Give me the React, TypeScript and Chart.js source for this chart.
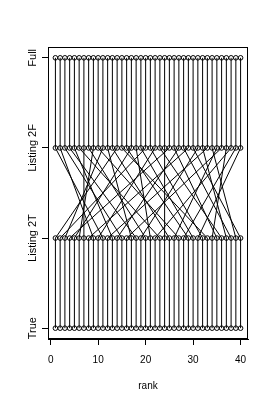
import React, { useEffect, useRef } from "react";
import { Chart, registerables } from "chart.js";

Chart.register(...registerables);

// Levels (bottom to top) and their y positions
const levelLabels = ["True", "Listing 2T", "Listing 2F", "Full"];
const levelValues = [1, 2, 3, 4];

// Ranks of the items in "True" and "Listing 2T" (identical)
const ranks = [
  1, 2, 3, 4, 5, 6, 7, 8, 9, 10, 11, 12, 13, 14, 15, 16, 17, 18, 19, 20,
  21, 22, 23, 24, 25, 26, 27, 28, 29, 30, 31, 32, 33, 34, 35, 36, 37, 38, 39, 40,
];

// Rank of the same items in "Listing 2F" and "Full" (identical)
const listing2FRank = [
  14, 20, 11, 25, 17, 9, 7, 29, 2, 22, 1, 33, 5, 27, 3, 36, 12, 4, 31, 8,
  18, 38, 6, 24, 13, 35, 10, 39, 16, 19, 40, 21, 15, 37, 26, 23, 32, 28, 34, 30,
];

const xTicks = [0, 10, 20, 30, 40];
const xTitle = "rank";

const FONT = "'Liberation Sans', Arial, Helvetica, sans-serif";

export default function App() {
  const ref = useRef<HTMLCanvasElement | null>(null);

  useEffect(() => {
    if (!ref.current) return;

    const lineSets = ranks.map((r, i) => ({
      type: "line" as const,
      data: [
        { x: r, y: levelValues[0] },
        { x: r, y: levelValues[1] },
        { x: listing2FRank[i], y: levelValues[2] },
        { x: listing2FRank[i], y: levelValues[3] },
      ],
      borderColor: "#000",
      borderWidth: 1,
      pointRadius: 0,
      fill: false,
      tension: 0,
    }));

    const pts: { x: number; y: number }[] = [];
    levelValues.forEach((lv) => {
      ranks.forEach((r) => pts.push({ x: r, y: lv }));
    });

    const pointSet = {
      type: "scatter" as const,
      data: pts,
      pointStyle: "circle",
      pointRadius: 2.3,
      pointBorderWidth: 1,
      borderColor: "#000",
      pointBorderColor: "#000",
      backgroundColor: "rgba(0,0,0,0)",
      pointBackgroundColor: "rgba(0,0,0,0)",
      showLine: false,
    };

    const framePlugin = {
      id: "frame",
      afterDraw(chart: any) {
        const { ctx, chartArea } = chart;
        const y = chart.scales.y;
        ctx.save();
        ctx.strokeStyle = "#000";
        ctx.lineWidth = 1;
        const l = Math.round(chartArea.left) + 0.5;
        const t = Math.round(chartArea.top) + 0.5;
        const rr = Math.round(chartArea.right) - 0.5;
        const b = Math.round(chartArea.bottom) - 0.5;
        ctx.strokeRect(l, t, rr - l, b - t);
        ctx.fillStyle = "#000";
        ctx.font = `11px ${FONT}`;
        ctx.textAlign = "center";
        ctx.textBaseline = "middle";
        levelValues.forEach((v, i) => {
          const py = y.getPixelForValue(v);
          ctx.save();
          ctx.translate(chartArea.left - 15, py);
          ctx.rotate(-Math.PI / 2);
          ctx.fillText(levelLabels[i], 0, 0);
          ctx.restore();
        });
        ctx.restore();
      },
    };

    const chart = new Chart(ref.current, {
      type: "scatter",
      data: { datasets: [...lineSets, pointSet] as any },
      options: {
        animation: false,
        responsive: false,
        maintainAspectRatio: false,
        layout: { padding: { left: 0, right: 25, top: 47, bottom: 0 } },
        plugins: {
          legend: { display: false },
          tooltip: { enabled: false },
        },
        scales: {
          x: {
            type: "linear",
            min: -0.56,
            max: 41.56,
            afterBuildTicks: (s: any) => {
              s.ticks = xTicks.map((v) => ({ value: v }));
            },
            afterFit: (s: any) => {
              s.height = 61;
            },
            grid: {
              display: true,
              drawOnChartArea: false,
              drawTicks: true,
              tickLength: 6,
              color: "#000",
              tickColor: "#000",
            },
            border: { display: true, color: "#000" },
            ticks: {
              color: "#000",
              font: { family: FONT, size: 10 },
              padding: 9,
              maxRotation: 0,
              autoSkip: false,
              callback: (v: any) => String(v),
            },
            title: {
              display: true,
              text: xTitle,
              color: "#000",
              font: { family: FONT, size: 10 },
              padding: { top: 0, bottom: 8 },
            },
          },
          y: {
            type: "linear",
            min: 0.88,
            max: 4.12,
            afterBuildTicks: (s: any) => {
              s.ticks = levelValues.map((v) => ({ value: v }));
            },
            afterFit: (s: any) => {
              s.width = 48;
            },
            grid: {
              display: true,
              drawOnChartArea: false,
              drawTicks: true,
              tickLength: 6,
              color: "#000",
              tickColor: "#000",
            },
            border: { display: true, color: "#000" },
            ticks: { display: false },
          },
        },
      },
      plugins: [framePlugin],
    });

    return () => chart.destroy();
  }, []);

  return (
    <div
      style={{
        position: "fixed",
        left: 0,
        top: 0,
        width: 273,
        height: 400,
        background: "#fff",
      }}
    >
      <canvas ref={ref} width={273} height={400} style={{ width: 273, height: 400 }} />
    </div>
  );
}
